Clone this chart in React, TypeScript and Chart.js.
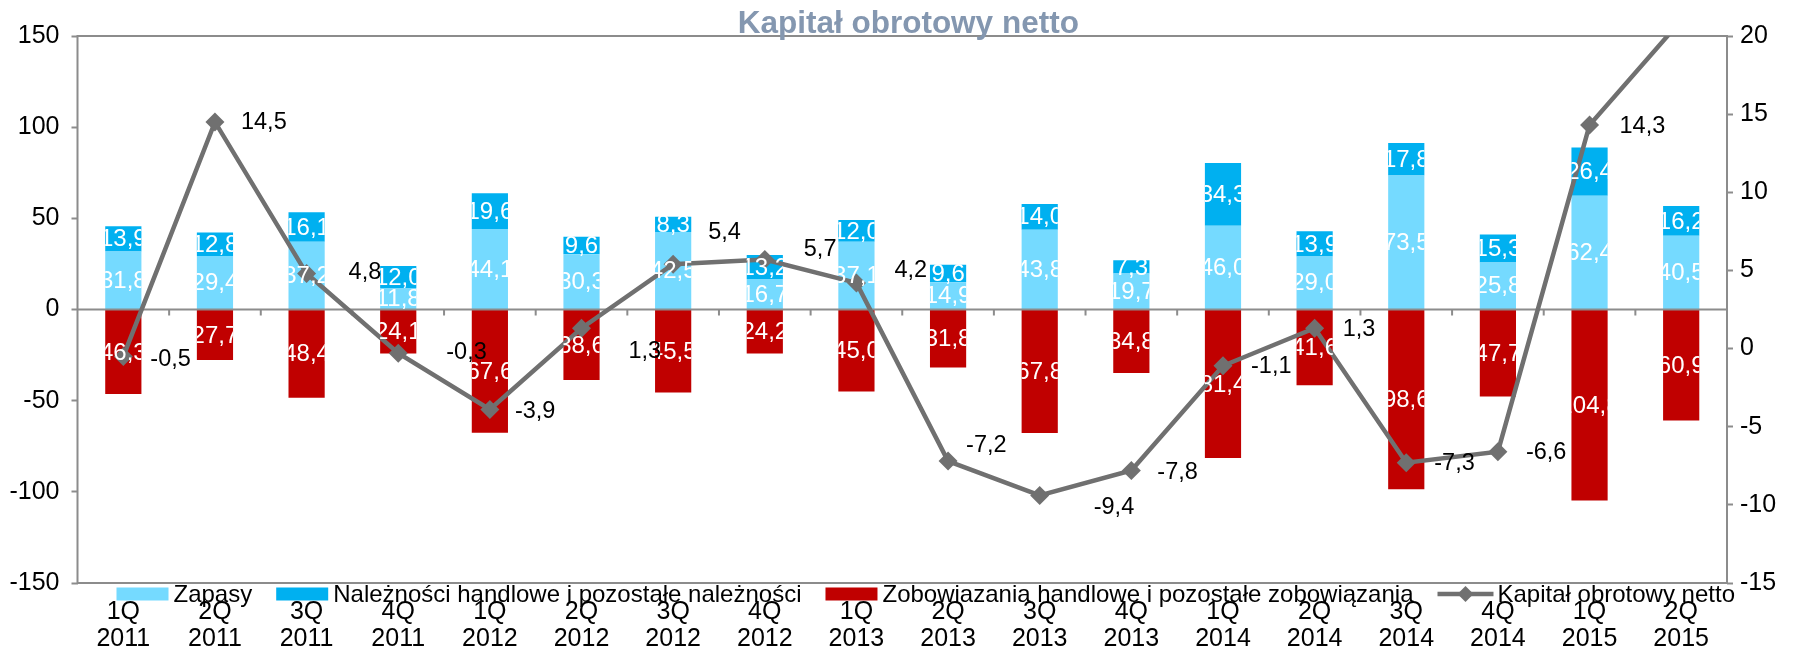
import React, { useEffect, useRef } from 'react';
import { Chart, registerables } from 'chart.js';

Chart.register(...registerables);

const categories: string[][] = [
  ['1Q', '2011'], ['2Q', '2011'], ['3Q', '2011'], ['4Q', '2011'],
  ['1Q', '2012'], ['2Q', '2012'], ['3Q', '2012'], ['4Q', '2012'],
  ['1Q', '2013'], ['2Q', '2013'], ['3Q', '2013'], ['4Q', '2013'],
  ['1Q', '2014'], ['2Q', '2014'], ['3Q', '2014'], ['4Q', '2014'],
  ['1Q', '2015'], ['2Q', '2015'],
];

const zapasy = [31.8, 29.4, 37.2, 11.8, 44.1, 30.3, 42.5, 16.7, 37.1, 14.9, 43.8, 19.7, 46.0, 29.0, 73.5, 25.8, 62.4, 40.5];
const naleznosci = [13.9, 12.8, 16.1, 12.0, 19.6, 9.6, 8.3, 13.2, 12.0, 9.6, 14.0, 7.3, 34.3, 13.9, 17.8, 15.3, 26.4, 16.2];
const zobowiazania = [-46.3, -27.7, -48.4, -24.1, -67.6, -38.6, -45.5, -24.2, -45.0, -31.8, -67.8, -34.8, -81.4, -41.6, -98.6, -47.7, -104.8, -60.9];
const kapital = [-0.5, 14.5, 4.8, -0.3, -3.9, 1.3, 5.4, 5.7, 4.2, -7.2, -9.4, -7.8, -1.1, 1.3, -7.3, -6.6, 14.3, 21.0];

const leftAxis = { min: -150, max: 150, step: 50 };
const rightAxis = { min: -15, max: 20, step: 5 };

const seriesNames = [
  'Zapasy',
  'Należności handlowe i pozostałe należności',
  'Zobowiazania handlowe i pozostałe zobowiązania',
  'Kapitał obrotowy netto',
];
const titleText = 'Kapitał obrotowy netto';

// label shifts (px) of line value labels relative to their marker
const lineLabelShift: number[][] = [
  [27, 2], [26, 0], [42, -2], [48, -2], [25, 1], [47, 22], [35, -33], [39, -11], [38, -13],
  [18, -17], [54, 11], [26, 1], [28, 0], [28, 0], [28, 0], [28, 0], [30, 0], [28, 0],
];

const FONT = "'Liberation Sans', Arial, sans-serif";
const C_ZAP = '#75DAFF';
const C_NAL = '#00B0F0';
const C_ZOB = '#C00000';
const C_LINE = '#707070';
const C_AXIS = '#8C8C8C';
const BAR_LABEL_SIZE = 24;
const LINE_LABEL_SIZE = 23.5;

const fmt = (v: number) => Math.abs(v).toFixed(1).replace('.', ',');

const framePlugin = {
  id: 'frame',
  afterDatasetDraw(chart: any, args: any) {
    if (args.index !== 0) return;
    const { ctx, chartArea } = chart;
    const y = chart.scales.y.getPixelForValue(0);
    const n = categories.length;
    const w = (chartArea.right - chartArea.left) / n;
    ctx.save();
    ctx.strokeStyle = C_AXIS;
    ctx.lineWidth = 2;
    ctx.beginPath();
    ctx.moveTo(chartArea.left, y);
    ctx.lineTo(chartArea.right, y);
    for (let k = 1; k < n; k++) {
      const x = chartArea.left + w * k;
      ctx.moveTo(x, y);
      ctx.lineTo(x, y + 6);
    }
    ctx.stroke();
    ctx.restore();
  },
  beforeDatasetsDraw(chart: any) {
    const { ctx, chartArea } = chart;
    ctx.save();
    ctx.strokeStyle = C_AXIS;
    ctx.lineWidth = 2;
    ctx.strokeRect(chartArea.left, chartArea.top, chartArea.right - chartArea.left, chartArea.bottom - chartArea.top);
    ctx.restore();
  },
};

const labelPlugin = {
  id: 'valueLabels',
  afterDatasetsDraw(chart: any) {
    const { ctx, chartArea } = chart;
    ctx.save();
    ctx.font = `${BAR_LABEL_SIZE}px ${FONT}`;
    ctx.textBaseline = 'middle';
    for (let d = 0; d < 3; d++) {
      const meta = chart.getDatasetMeta(d);
      const data = chart.data.datasets[d].data as number[];
      meta.data.forEach((el: any, i: number) => {
        const p = el.getProps(['x', 'y', 'base', 'width'], true);
        ctx.save();
        ctx.beginPath();
        ctx.rect(p.x - p.width / 2, chartArea.top, p.width, chartArea.bottom - chartArea.top);
        ctx.clip();
        ctx.fillStyle = '#FFFFFF';
        ctx.textAlign = 'center';
        ctx.fillText(fmt(data[i]), p.x, (p.y + p.base) / 2 + 1);
        ctx.restore();
      });
    }
    const lm = chart.getDatasetMeta(3);
    ctx.font = `${LINE_LABEL_SIZE}px ${FONT}`;
    ctx.fillStyle = '#000000';
    ctx.textAlign = 'left';
    lm.data.forEach((el: any, i: number) => {
      const v = kapital[i];
      if (v > rightAxis.max || v < rightAxis.min) return;
      const s = lineLabelShift[i] || [27, 0];
      ctx.fillText(kapital[i].toFixed(1).replace('.', ','), el.x + s[0], el.y + s[1] + 1);
    });
    ctx.restore();
  },
};

const titleLegendPlugin = {
  id: 'titleLegend',
  afterDraw(chart: any) {
    const { ctx, chartArea } = chart;
    ctx.save();
    // title
    ctx.font = `bold 31.5px ${FONT}`;
    ctx.fillStyle = '#8497B0';
    ctx.textAlign = 'center';
    ctx.textBaseline = 'alphabetic';
    ctx.fillText(titleText, (chartArea.left + chartArea.right) / 2 + 6, 33);

    // legend
    ctx.font = `24px ${FONT}`;
    ctx.textAlign = 'left';
    ctx.textBaseline = 'middle';
    const y = 594;
    let x = chartArea.left + 39;
    const colors = [C_ZAP, C_NAL, C_ZOB];
    for (let i = 0; i < 4; i++) {
      if (i < 3) {
        ctx.fillStyle = colors[i];
        ctx.fillRect(x, y - 6.5, 52, 13);
        x += 52 + 5;
      } else {
        ctx.strokeStyle = C_LINE;
        ctx.lineWidth = 4.5;
        ctx.beginPath();
        ctx.moveTo(x, y);
        ctx.lineTo(x + 56, y);
        ctx.stroke();
        ctx.fillStyle = C_LINE;
        ctx.beginPath();
        const cx = x + 28;
        const r = 8;
        ctx.moveTo(cx - r, y);
        ctx.lineTo(cx, y - r);
        ctx.lineTo(cx + r, y);
        ctx.lineTo(cx, y + r);
        ctx.closePath();
        ctx.fill();
        x += 56 + 4;
      }
      ctx.fillStyle = '#000000';
      ctx.fillText(seriesNames[i], x, y + 1);
      x += ctx.measureText(seriesNames[i]).width + 24;
    }
    ctx.restore();
  },
};

export default function App() {
  const ref = useRef<HTMLCanvasElement | null>(null);

  useEffect(() => {
    if (!ref.current) return;
    const tickFont = { family: FONT, size: 25, lineHeight: 1.08 };
    const chart = new Chart(ref.current, {
      type: 'bar',
      data: {
        labels: categories,
        datasets: [
          { type: 'bar', label: seriesNames[0], data: zapasy, backgroundColor: C_ZAP, stack: 's', order: 1, yAxisID: 'y', barPercentage: 0.395, categoryPercentage: 1 },
          { type: 'bar', label: seriesNames[1], data: naleznosci, backgroundColor: C_NAL, stack: 's', order: 1, yAxisID: 'y', barPercentage: 0.395, categoryPercentage: 1 },
          { type: 'bar', label: seriesNames[2], data: zobowiazania, backgroundColor: C_ZOB, stack: 's', order: 1, yAxisID: 'y', barPercentage: 0.395, categoryPercentage: 1 },
          {
            type: 'line', label: seriesNames[3], data: kapital, yAxisID: 'y1', order: 0,
            borderColor: C_LINE, borderWidth: 4.5, backgroundColor: C_LINE,
            pointStyle: 'rectRot', pointRadius: 9.5, pointBorderWidth: 0,
            pointBackgroundColor: C_LINE, tension: 0, clip: 0,
          } as any,
        ],
      },
      options: {
        responsive: false,
        animation: false,
        devicePixelRatio: 1,
        layout: { padding: { top: 36, left: 0, right: 0, bottom: 0 } },
        plugins: { legend: { display: false }, title: { display: false }, tooltip: { enabled: false } },
        scales: {
          x: {
            stacked: true,
            grid: { display: false, drawTicks: false },
            border: { display: false },
            ticks: { color: '#000', font: tickFont, padding: 16, maxRotation: 0, minRotation: 0, autoSkip: false },
            afterFit: (s: any) => { s.height = 68; },
          },
          y: {
            stacked: true,
            position: 'left',
            min: leftAxis.min,
            max: leftAxis.max,
            ticks: { stepSize: leftAxis.step, padding: 12, color: '#000', font: tickFont },
            grid: { drawOnChartArea: false, drawTicks: true, tickLength: 6, tickColor: C_AXIS, tickWidth: 2 },
            border: { display: false },
            afterFit: (s: any) => { s.width = 77.5; },
          },
          y1: {
            position: 'right',
            min: rightAxis.min,
            max: rightAxis.max,
            ticks: { stepSize: rightAxis.step, padding: 7, color: '#000', font: tickFont },
            grid: { drawOnChartArea: false, drawTicks: true, tickLength: 6, tickColor: C_AXIS, tickWidth: 2 },
            border: { display: false },
            afterFit: (s: any) => { s.width = 69; },
          },
        },
      } as any,
      plugins: [framePlugin, labelPlugin, titleLegendPlugin],
    });
    return () => chart.destroy();
  }, []);

  return (
    <div style={{ position: 'fixed', left: 0, top: 0, width: 1796, height: 651, background: '#fff' }}>
      <canvas ref={ref} width={1796} height={651} style={{ display: 'block' }} />
    </div>
  );
}
